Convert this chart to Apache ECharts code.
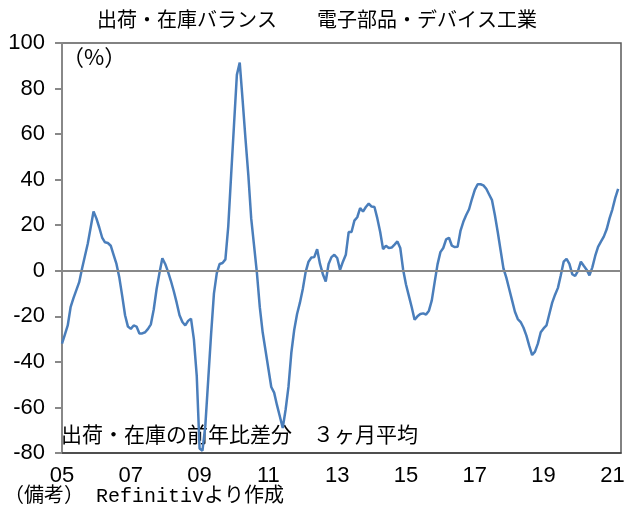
<!DOCTYPE html>
<html>
<head>
<meta charset="utf-8">
<script src="https://cdn.jsdelivr.net/npm/echarts@6/dist/echarts.min.js"></script>
<style>
  html, body { margin: 0; padding: 0; background: #fff; }
  #chart { width: 634px; height: 522px; }
</style>
</head>
<body>
<div id="chart"></div>
<script>
// 月次（2005年1月～2021年4月）
const startYear = 2005;
const monthCount = 196;
const months = [];
for (let i = 0; i < monthCount; i++) {
  const y = startYear + Math.floor(i / 12);
  const m = (i % 12) + 1;
  months.push(String(y).slice(2) + '/' + String(m).padStart(2, '0'));
}

// 出荷・在庫バランス（%）
const balance = [
  -32, -28, -24, -16, -12, -8.5, -5, 1, 6.5, 12, 19, 26,
  23, 19, 14.6, 12.5, 12.2, 11, 7, 3, -3, -11, -19.5, -24.5,
  -25.5, -24, -24.5, -27.5, -27.5, -27, -25.5, -23.5, -17, -8, -1, 5.5,
  3, -0.5, -4.5, -9, -14, -19.5, -22.5, -24, -22, -21, -30, -46,
  -78, -79, -68, -48, -28, -10, -1, 3, 3.4, 5, 19.5, 42,
  64, 86, 91.4, 75, 58, 42, 23, 11, -1, -16, -27, -35,
  -43, -51, -53.5, -59, -64, -69, -61, -51, -36, -26, -19, -14,
  -8, -0.5, 4, 5.8, 6, 9.5, 3, -1.5, -4.7, 3, 6, 7,
  5.6, 0.4, 4, 7, 17, 17, 22, 23.5, 27.5, 26, 28, 29.5,
  28.2, 28, 23, 17, 9.5, 11, 10, 10.2, 11.5, 12.9, 10, 0.5,
  -6, -11, -16, -21.5, -20, -19, -18.7, -19.2, -17.5, -13, -5, 2.8,
  8.2, 10, 13.8, 14.5, 11, 10.4, 10.5, 17.5, 21.5, 24.5, 27, 31.5,
  35.5, 38, 38, 37.5, 36, 33.5, 31, 24.5, 17, 9, 1, -3,
  -8, -13, -18, -21.2, -22.5, -25, -28.5, -33, -37, -35.5, -32, -27,
  -25.3, -24, -19, -14, -10.5, -7.5, -2, 4, 5.2, 3, -1.5, -2.3,
  0, 4, 2.2, 0.5, -2, 1.5, 6.5, 10.5, 12.8, 15, 18.2, 23,
  27, 32, 36
];

const yTicks = [-80, -60, -40, -20, 0, 20, 40, 60, 80, 100];

const jpFont = '"Noto Sans CJK JP", sans-serif';
const numFont = '"Liberation Sans", sans-serif';

const chart = echarts.init(document.getElementById('chart'));

chart.setOption({
  animation: false,
  title: {
    text: '出荷・在庫バランス　　電子部品・デバイス工業',
    left: 'center',
    top: 4,
    textStyle: { fontFamily: jpFont, fontSize: 20, fontWeight: 'normal', color: '#000' }
  },
  grid: {
    left: 62, right: 13, top: 43, bottom: 69,
    show: true,
    borderColor: '#595959',
    borderWidth: 1.5
  },
  xAxis: {
    type: 'category',
    data: months,
    boundaryGap: false,
    axisLine: { onZero: false, lineStyle: { color: '#404040', width: 1.5 } },
    axisTick: { show: false },
    splitLine: { show: false },
    axisLabel: {
      interval: (index) => index % 24 === 0,
      formatter: (v) => v.slice(0, 2),
      fontFamily: numFont,
      fontSize: 22,
      color: '#000',
      margin: 12
    }
  },
  yAxis: {
    type: 'value',
    min: yTicks[0],
    max: yTicks[yTicks.length - 1],
    interval: 20,
    axisLine: { show: true, lineStyle: { color: '#888', width: 2 } },
    axisTick: { show: true, length: 7, lineStyle: { color: '#888', width: 2 } },
    splitLine: { show: false },
    axisLabel: {
      fontFamily: numFont,
      fontSize: 22,
      color: '#000',
      margin: 17
    }
  },
  graphic: [
    {
      type: 'text', left: 62, top: 46,
      style: { text: '（%）', font: '22px "Noto Sans CJK JP"', fill: '#000' }
    },
    {
      type: 'text', left: 61, top: 424,
      style: { text: '出荷・在庫の前年比差分　３ヶ月平均', font: '21px "Noto Sans CJK JP"', fill: '#000' }
    },
    {
      type: 'text', left: 4, top: 487,
      style: { text: '（備考） Refinitivより作成', font: '20px "Liberation Mono", "Noto Sans CJK JP"', fill: '#000' }
    }
  ],
  series: [
    {
      type: 'line',
      data: balance,
      showSymbol: false,
      smooth: false,
      lineStyle: { color: '#4a7ebb', width: 2.5 },
      itemStyle: { color: '#4a7ebb' },
      markLine: {
        silent: true,
        symbol: 'none',
        label: { show: false },
        lineStyle: { color: '#888', width: 2, type: 'solid' },
        data: [{ yAxis: 0 }]
      },
      z: 3
    }
  ]
});
</script>
</body>
</html>
